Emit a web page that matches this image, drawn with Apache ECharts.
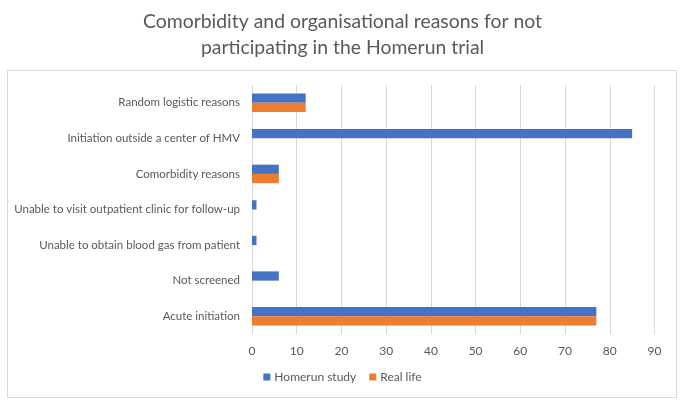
<!DOCTYPE html>
<html>
<head>
<meta charset="utf-8">
<script src="https://cdn.jsdelivr.net/npm/echarts@6/dist/echarts.min.js"></script>
<style>
html,body{margin:0;padding:0;background:#fff;}
#chart{width:685px;height:405px;}
</style>
</head>
<body>
<div id="chart"></div>
<script>
var categories = [
  'Acute initiation',
  'Not screened',
  'Unable to obtain blood gas from patient',
  'Unable to visit outpatient clinic for follow-up',
  'Comorbidity reasons',
  'Initiation outside a center of HMV',
  'Random logistic reasons'
];
var homerunStudy = [77, 6, 1, 1, 6, 85, 12];
var realLife = [77, 0, 0, 0, 6, 0, 12];
var xTicks = [0, 10, 20, 30, 40, 50, 60, 70, 80, 90];
var titleText = 'Comorbidity and organisational reasons for not\nparticipating in the Homerun trial';

var FONT = 'Lato';
var chart = echarts.init(document.getElementById('chart'), null, {renderer: 'canvas'});
chart.setOption({
  backgroundColor: '#ffffff',
  animation: false,
  title: {
    text: titleText,
    left: 'center',
    top: 4,
    textStyle: {fontFamily: FONT, fontSize: 19.4, fontWeight: 'normal', color: '#595959', lineHeight: 26}
  },
  graphic: [{
    type: 'rect',
    shape: {x: 7.5, y: 70.5, width: 669, height: 327},
    style: {fill: 'none', stroke: '#d9d9d9', lineWidth: 1},
    silent: true, z: -1
  }],
  legend: {
    data: ['Homerun study', 'Real life'],
    bottom: 17,
    left: 'center',
    itemWidth: 7,
    itemHeight: 7,
    itemGap: 13,
    icon: 'rect',
    textStyle: {fontFamily: FONT, fontSize: 12, color: '#595959', padding: [0, 0, 0, -1]}
  },
  grid: {left: 252, right: 30.5, top: 85, bottom: 71, containLabel: false},
  xAxis: {
    type: 'value',
    min: xTicks[0],
    max: xTicks[xTicks.length - 1],
    interval: 10,
    axisLine: {show: false},
    axisTick: {show: false},
    axisLabel: {fontFamily: FONT, fontSize: 12, color: '#595959', margin: 11},
    splitLine: {show: true, lineStyle: {color: '#d9d9d9', width: 1}}
  },
  yAxis: {
    type: 'category',
    data: categories,
    axisLine: {show: false},
    axisTick: {show: false},
    axisLabel: {fontFamily: FONT, fontSize: 11.5, color: '#595959', margin: 12},
    splitLine: {show: false}
  },
  series: [
    {
      name: 'Homerun study', type: 'bar', data: homerunStudy,
      barGap: '0%', barCategoryGap: '48%',
      itemStyle: {color: '#4472C4'}
    },
    {
      name: 'Real life', type: 'bar', data: realLife,
      barGap: '0%', barCategoryGap: '48%',
      itemStyle: {color: '#ED7D31'}
    }
  ]
});
</script>
</body>
</html>
